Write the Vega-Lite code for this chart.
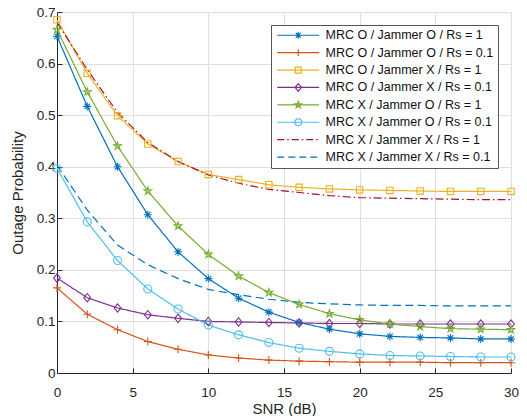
{
  "$schema": "https://vega.github.io/schema/vega-lite/v6.json",
  "width": 454,
  "height": 361,
  "autosize": "none",
  "padding": {"left": 57, "top": 12, "right": 16, "bottom": 43},
  "background": "white",
  "config": {
    "view": {"stroke": null},
    "font": "Liberation Sans",
    "axis": {
      "grid": true,
      "gridColor": "#dfdfdf",
      "gridWidth": 1,
      "domainColor": "#262626",
      "domainWidth": 1,
      "tickColor": "#262626",
      "tickSize": -5,
      "labelFont": "Liberation Sans",
      "labelFontSize": 13.5,
      "labelColor": "#262626",
      "labelFlush": false,
      "labelOverlap": false,
      "titleFont": "Liberation Sans",
      "titleFontSize": 15,
      "titleFontWeight": "normal",
      "titleColor": "#262626"
    },
    "legend": {
      "labelFont": "Liberation Sans",
      "labelFontSize": 12.5
    }
  },
  "data": {
    "values": [
      {"snr": 0, "p": 0.653, "series": "MRC O / Jammer O / Rs = 1"},
      {"snr": 2, "p": 0.517, "series": "MRC O / Jammer O / Rs = 1"},
      {"snr": 4, "p": 0.400, "series": "MRC O / Jammer O / Rs = 1"},
      {"snr": 6, "p": 0.307, "series": "MRC O / Jammer O / Rs = 1"},
      {"snr": 8, "p": 0.235, "series": "MRC O / Jammer O / Rs = 1"},
      {"snr": 10, "p": 0.183, "series": "MRC O / Jammer O / Rs = 1"},
      {"snr": 12, "p": 0.145, "series": "MRC O / Jammer O / Rs = 1"},
      {"snr": 14, "p": 0.118, "series": "MRC O / Jammer O / Rs = 1"},
      {"snr": 16, "p": 0.098, "series": "MRC O / Jammer O / Rs = 1"},
      {"snr": 18, "p": 0.085, "series": "MRC O / Jammer O / Rs = 1"},
      {"snr": 20, "p": 0.076, "series": "MRC O / Jammer O / Rs = 1"},
      {"snr": 22, "p": 0.071, "series": "MRC O / Jammer O / Rs = 1"},
      {"snr": 24, "p": 0.069, "series": "MRC O / Jammer O / Rs = 1"},
      {"snr": 26, "p": 0.068, "series": "MRC O / Jammer O / Rs = 1"},
      {"snr": 28, "p": 0.066, "series": "MRC O / Jammer O / Rs = 1"},
      {"snr": 30, "p": 0.066, "series": "MRC O / Jammer O / Rs = 1"},
      {"snr": 0, "p": 0.165, "series": "MRC O / Jammer O / Rs = 0.1"},
      {"snr": 2, "p": 0.114, "series": "MRC O / Jammer O / Rs = 0.1"},
      {"snr": 4, "p": 0.084, "series": "MRC O / Jammer O / Rs = 0.1"},
      {"snr": 6, "p": 0.061, "series": "MRC O / Jammer O / Rs = 0.1"},
      {"snr": 8, "p": 0.046, "series": "MRC O / Jammer O / Rs = 0.1"},
      {"snr": 10, "p": 0.035, "series": "MRC O / Jammer O / Rs = 0.1"},
      {"snr": 12, "p": 0.029, "series": "MRC O / Jammer O / Rs = 0.1"},
      {"snr": 14, "p": 0.025, "series": "MRC O / Jammer O / Rs = 0.1"},
      {"snr": 16, "p": 0.023, "series": "MRC O / Jammer O / Rs = 0.1"},
      {"snr": 18, "p": 0.022, "series": "MRC O / Jammer O / Rs = 0.1"},
      {"snr": 20, "p": 0.021, "series": "MRC O / Jammer O / Rs = 0.1"},
      {"snr": 22, "p": 0.021, "series": "MRC O / Jammer O / Rs = 0.1"},
      {"snr": 24, "p": 0.021, "series": "MRC O / Jammer O / Rs = 0.1"},
      {"snr": 26, "p": 0.020, "series": "MRC O / Jammer O / Rs = 0.1"},
      {"snr": 28, "p": 0.020, "series": "MRC O / Jammer O / Rs = 0.1"},
      {"snr": 30, "p": 0.020, "series": "MRC O / Jammer O / Rs = 0.1"},
      {"snr": 0, "p": 0.685, "series": "MRC O / Jammer X / Rs = 1"},
      {"snr": 2, "p": 0.581, "series": "MRC O / Jammer X / Rs = 1"},
      {"snr": 4, "p": 0.499, "series": "MRC O / Jammer X / Rs = 1"},
      {"snr": 6, "p": 0.444, "series": "MRC O / Jammer X / Rs = 1"},
      {"snr": 8, "p": 0.410, "series": "MRC O / Jammer X / Rs = 1"},
      {"snr": 10, "p": 0.385, "series": "MRC O / Jammer X / Rs = 1"},
      {"snr": 12, "p": 0.375, "series": "MRC O / Jammer X / Rs = 1"},
      {"snr": 14, "p": 0.365, "series": "MRC O / Jammer X / Rs = 1"},
      {"snr": 16, "p": 0.360, "series": "MRC O / Jammer X / Rs = 1"},
      {"snr": 18, "p": 0.357, "series": "MRC O / Jammer X / Rs = 1"},
      {"snr": 20, "p": 0.355, "series": "MRC O / Jammer X / Rs = 1"},
      {"snr": 22, "p": 0.354, "series": "MRC O / Jammer X / Rs = 1"},
      {"snr": 24, "p": 0.353, "series": "MRC O / Jammer X / Rs = 1"},
      {"snr": 26, "p": 0.352, "series": "MRC O / Jammer X / Rs = 1"},
      {"snr": 28, "p": 0.352, "series": "MRC O / Jammer X / Rs = 1"},
      {"snr": 30, "p": 0.352, "series": "MRC O / Jammer X / Rs = 1"},
      {"snr": 0, "p": 0.184, "series": "MRC O / Jammer X / Rs = 0.1"},
      {"snr": 2, "p": 0.146, "series": "MRC O / Jammer X / Rs = 0.1"},
      {"snr": 4, "p": 0.126, "series": "MRC O / Jammer X / Rs = 0.1"},
      {"snr": 6, "p": 0.113, "series": "MRC O / Jammer X / Rs = 0.1"},
      {"snr": 8, "p": 0.106, "series": "MRC O / Jammer X / Rs = 0.1"},
      {"snr": 10, "p": 0.100, "series": "MRC O / Jammer X / Rs = 0.1"},
      {"snr": 12, "p": 0.099, "series": "MRC O / Jammer X / Rs = 0.1"},
      {"snr": 14, "p": 0.098, "series": "MRC O / Jammer X / Rs = 0.1"},
      {"snr": 16, "p": 0.097, "series": "MRC O / Jammer X / Rs = 0.1"},
      {"snr": 18, "p": 0.096, "series": "MRC O / Jammer X / Rs = 0.1"},
      {"snr": 20, "p": 0.096, "series": "MRC O / Jammer X / Rs = 0.1"},
      {"snr": 22, "p": 0.095, "series": "MRC O / Jammer X / Rs = 0.1"},
      {"snr": 24, "p": 0.095, "series": "MRC O / Jammer X / Rs = 0.1"},
      {"snr": 26, "p": 0.095, "series": "MRC O / Jammer X / Rs = 0.1"},
      {"snr": 28, "p": 0.095, "series": "MRC O / Jammer X / Rs = 0.1"},
      {"snr": 30, "p": 0.095, "series": "MRC O / Jammer X / Rs = 0.1"},
      {"snr": 0, "p": 0.666, "series": "MRC X / Jammer O / Rs = 1"},
      {"snr": 2, "p": 0.545, "series": "MRC X / Jammer O / Rs = 1"},
      {"snr": 4, "p": 0.440, "series": "MRC X / Jammer O / Rs = 1"},
      {"snr": 6, "p": 0.353, "series": "MRC X / Jammer O / Rs = 1"},
      {"snr": 8, "p": 0.285, "series": "MRC X / Jammer O / Rs = 1"},
      {"snr": 10, "p": 0.230, "series": "MRC X / Jammer O / Rs = 1"},
      {"snr": 12, "p": 0.188, "series": "MRC X / Jammer O / Rs = 1"},
      {"snr": 14, "p": 0.156, "series": "MRC X / Jammer O / Rs = 1"},
      {"snr": 16, "p": 0.133, "series": "MRC X / Jammer O / Rs = 1"},
      {"snr": 18, "p": 0.115, "series": "MRC X / Jammer O / Rs = 1"},
      {"snr": 20, "p": 0.103, "series": "MRC X / Jammer O / Rs = 1"},
      {"snr": 22, "p": 0.095, "series": "MRC X / Jammer O / Rs = 1"},
      {"snr": 24, "p": 0.090, "series": "MRC X / Jammer O / Rs = 1"},
      {"snr": 26, "p": 0.086, "series": "MRC X / Jammer O / Rs = 1"},
      {"snr": 28, "p": 0.085, "series": "MRC X / Jammer O / Rs = 1"},
      {"snr": 30, "p": 0.084, "series": "MRC X / Jammer O / Rs = 1"},
      {"snr": 0, "p": 0.397, "series": "MRC X / Jammer O / Rs = 0.1"},
      {"snr": 2, "p": 0.293, "series": "MRC X / Jammer O / Rs = 0.1"},
      {"snr": 4, "p": 0.218, "series": "MRC X / Jammer O / Rs = 0.1"},
      {"snr": 6, "p": 0.163, "series": "MRC X / Jammer O / Rs = 0.1"},
      {"snr": 8, "p": 0.124, "series": "MRC X / Jammer O / Rs = 0.1"},
      {"snr": 10, "p": 0.093, "series": "MRC X / Jammer O / Rs = 0.1"},
      {"snr": 12, "p": 0.074, "series": "MRC X / Jammer O / Rs = 0.1"},
      {"snr": 14, "p": 0.059, "series": "MRC X / Jammer O / Rs = 0.1"},
      {"snr": 16, "p": 0.048, "series": "MRC X / Jammer O / Rs = 0.1"},
      {"snr": 18, "p": 0.042, "series": "MRC X / Jammer O / Rs = 0.1"},
      {"snr": 20, "p": 0.037, "series": "MRC X / Jammer O / Rs = 0.1"},
      {"snr": 22, "p": 0.034, "series": "MRC X / Jammer O / Rs = 0.1"},
      {"snr": 24, "p": 0.033, "series": "MRC X / Jammer O / Rs = 0.1"},
      {"snr": 26, "p": 0.032, "series": "MRC X / Jammer O / Rs = 0.1"},
      {"snr": 28, "p": 0.031, "series": "MRC X / Jammer O / Rs = 0.1"},
      {"snr": 30, "p": 0.031, "series": "MRC X / Jammer O / Rs = 0.1"},
      {"snr": 0, "p": 0.680, "series": "MRC X / Jammer X / Rs = 1"},
      {"snr": 2, "p": 0.588, "series": "MRC X / Jammer X / Rs = 1"},
      {"snr": 4, "p": 0.505, "series": "MRC X / Jammer X / Rs = 1"},
      {"snr": 6, "p": 0.447, "series": "MRC X / Jammer X / Rs = 1"},
      {"snr": 8, "p": 0.410, "series": "MRC X / Jammer X / Rs = 1"},
      {"snr": 10, "p": 0.384, "series": "MRC X / Jammer X / Rs = 1"},
      {"snr": 12, "p": 0.368, "series": "MRC X / Jammer X / Rs = 1"},
      {"snr": 14, "p": 0.356, "series": "MRC X / Jammer X / Rs = 1"},
      {"snr": 16, "p": 0.350, "series": "MRC X / Jammer X / Rs = 1"},
      {"snr": 18, "p": 0.344, "series": "MRC X / Jammer X / Rs = 1"},
      {"snr": 20, "p": 0.340, "series": "MRC X / Jammer X / Rs = 1"},
      {"snr": 22, "p": 0.339, "series": "MRC X / Jammer X / Rs = 1"},
      {"snr": 24, "p": 0.338, "series": "MRC X / Jammer X / Rs = 1"},
      {"snr": 26, "p": 0.337, "series": "MRC X / Jammer X / Rs = 1"},
      {"snr": 28, "p": 0.336, "series": "MRC X / Jammer X / Rs = 1"},
      {"snr": 30, "p": 0.336, "series": "MRC X / Jammer X / Rs = 1"},
      {"snr": 0, "p": 0.403, "series": "MRC X / Jammer X / Rs = 0.1"},
      {"snr": 2, "p": 0.316, "series": "MRC X / Jammer X / Rs = 0.1"},
      {"snr": 4, "p": 0.248, "series": "MRC X / Jammer X / Rs = 0.1"},
      {"snr": 6, "p": 0.210, "series": "MRC X / Jammer X / Rs = 0.1"},
      {"snr": 8, "p": 0.183, "series": "MRC X / Jammer X / Rs = 0.1"},
      {"snr": 10, "p": 0.162, "series": "MRC X / Jammer X / Rs = 0.1"},
      {"snr": 12, "p": 0.152, "series": "MRC X / Jammer X / Rs = 0.1"},
      {"snr": 14, "p": 0.143, "series": "MRC X / Jammer X / Rs = 0.1"},
      {"snr": 16, "p": 0.137, "series": "MRC X / Jammer X / Rs = 0.1"},
      {"snr": 18, "p": 0.134, "series": "MRC X / Jammer X / Rs = 0.1"},
      {"snr": 20, "p": 0.132, "series": "MRC X / Jammer X / Rs = 0.1"},
      {"snr": 22, "p": 0.131, "series": "MRC X / Jammer X / Rs = 0.1"},
      {"snr": 24, "p": 0.131, "series": "MRC X / Jammer X / Rs = 0.1"},
      {"snr": 26, "p": 0.130, "series": "MRC X / Jammer X / Rs = 0.1"},
      {"snr": 28, "p": 0.130, "series": "MRC X / Jammer X / Rs = 0.1"},
      {"snr": 30, "p": 0.130, "series": "MRC X / Jammer X / Rs = 0.1"}
    ]
  },
  "encoding": {
    "x": {
      "field": "snr", "type": "quantitative",
      "scale": {"domain": [0, 30], "nice": false, "zero": false},
      "axis": {"title": "SNR (dB)", "values": [0, 5, 10, 15, 20, 25, 30], "labelPadding": 17, "titlePadding": 3}
    },
    "y": {
      "field": "p", "type": "quantitative",
      "scale": {"domain": [0, 0.7], "nice": false},
      "axis": {"title": "Outage Probability", "values": [0, 0.1, 0.2, 0.3, 0.4, 0.5, 0.6, 0.7], "format": ".1~f", "labelPadding": 7, "titlePadding": 11}
    }
  },
  "layer": [
    {
      "mark": {"type": "line", "strokeWidth": 1.2},
      "encoding": {
        "color": {
          "field": "series", "type": "nominal", "legend": null,
          "scale": {
            "domain": ["MRC O / Jammer O / Rs = 1", "MRC O / Jammer O / Rs = 0.1", "MRC O / Jammer X / Rs = 1", "MRC O / Jammer X / Rs = 0.1", "MRC X / Jammer O / Rs = 1", "MRC X / Jammer O / Rs = 0.1", "MRC X / Jammer X / Rs = 1", "MRC X / Jammer X / Rs = 0.1"],
            "range": ["#0072BD", "#D95319", "#EDB120", "#7E2F8E", "#77AC30", "#4DBEEE", "#A2142F", "#0072BD"]
          }
        },
        "strokeDash": {
          "field": "series", "type": "nominal", "legend": null,
          "scale": {
            "domain": ["MRC O / Jammer O / Rs = 1", "MRC O / Jammer O / Rs = 0.1", "MRC O / Jammer X / Rs = 1", "MRC O / Jammer X / Rs = 0.1", "MRC X / Jammer O / Rs = 1", "MRC X / Jammer O / Rs = 0.1", "MRC X / Jammer X / Rs = 1", "MRC X / Jammer X / Rs = 0.1"],
            "range": [[1, 0], [1, 0], [1, 0], [1, 0], [1, 0], [1, 0], [8, 3, 1.5, 3], [8, 4.5]]
          }
        }
      }
    },
    {
      "transform": [{"filter": {"not": {"field": "series", "oneOf": ["MRC X / Jammer X / Rs = 1", "MRC X / Jammer X / Rs = 0.1"]}}}],
      "mark": {"type": "point", "filled": false, "size": 64, "strokeWidth": 1.1, "opacity": 1},
      "encoding": {
        "color": {
          "field": "series", "type": "nominal", "legend": null,
          "scale": {
            "domain": ["MRC O / Jammer O / Rs = 1", "MRC O / Jammer O / Rs = 0.1", "MRC O / Jammer X / Rs = 1", "MRC O / Jammer X / Rs = 0.1", "MRC X / Jammer O / Rs = 1", "MRC X / Jammer O / Rs = 0.1", "MRC X / Jammer X / Rs = 1", "MRC X / Jammer X / Rs = 0.1"],
            "range": ["#0072BD", "#D95319", "#EDB120", "#7E2F8E", "#77AC30", "#4DBEEE", "#A2142F", "#0072BD"]
          }
        },
        "shape": {
          "field": "series", "type": "nominal", "legend": null,
          "scale": {
            "domain": ["MRC O / Jammer O / Rs = 1", "MRC O / Jammer O / Rs = 0.1", "MRC O / Jammer X / Rs = 1", "MRC O / Jammer X / Rs = 0.1", "MRC X / Jammer O / Rs = 1", "MRC X / Jammer O / Rs = 0.1"],
            "range": [
              "M-1,0H1M0,-1V1M-0.7,-0.7L0.7,0.7M-0.7,0.7L0.7,-0.7",
              "M-1,0H1M0,-1V1",
              "M-0.8,-0.8H0.8V0.8H-0.8Z",
              "M0,-1.05L0.85,0L0,1.05L-0.85,0Z",
              "M0,-1L0.2245,-0.309L0.951,-0.309L0.363,0.118L0.588,0.809L0,0.382L-0.588,0.809L-0.363,0.118L-0.951,-0.309L-0.2245,-0.309Z",
              "circle"
            ]
          }
        }
      }
    },
    {
      "transform": [{"filter": {"field": "snr", "lt": -100}}],
      "mark": {"type": "point", "filled": false, "size": 49, "strokeWidth": 1.2, "opacity": 1},
      "encoding": {
        "color": {
          "field": "series", "type": "nominal",
          "scale": {
            "domain": ["MRC O / Jammer O / Rs = 1", "MRC O / Jammer O / Rs = 0.1", "MRC O / Jammer X / Rs = 1", "MRC O / Jammer X / Rs = 0.1", "MRC X / Jammer O / Rs = 1", "MRC X / Jammer O / Rs = 0.1", "MRC X / Jammer X / Rs = 1", "MRC X / Jammer X / Rs = 0.1"],
            "range": ["#0072BD", "#D95319", "#EDB120", "#7E2F8E", "#77AC30", "#4DBEEE", "#A2142F", "#0072BD"]
          },
          "legend": {
            "title": null,
            "orient": "top-right",
            "offset": 13,
            "padding": 4,
            "rowPadding": 4.4,
            "fillColor": "white",
            "strokeColor": "#555555",
            "labelColor": "#111111",
            "labelLimit": 400,
            "symbolSize": 49,
            "symbolStrokeWidth": 1.2,
            "symbolOffset": 17,
            "labelOffset": 21
          }
        },
        "shape": {
          "field": "series", "type": "nominal",
          "scale": {
            "domain": ["MRC O / Jammer O / Rs = 1", "MRC O / Jammer O / Rs = 0.1", "MRC O / Jammer X / Rs = 1", "MRC O / Jammer X / Rs = 0.1", "MRC X / Jammer O / Rs = 1", "MRC X / Jammer O / Rs = 0.1", "MRC X / Jammer X / Rs = 1", "MRC X / Jammer X / Rs = 0.1"],
            "range": [
              "M-6,0H6M0,-1V1M-0.7,-0.7L0.7,0.7M-0.7,0.7L0.7,-0.7",
              "M-6,0H6M0,-1V1",
              "M-6,0H6M-0.85,-0.85H0.85V0.85H-0.85Z",
              "M-6,0H6M0,-1.1L0.9,0L0,1.1L-0.9,0Z",
              "M-6,0H6M0,-1L0.2245,-0.309L0.951,-0.309L0.363,0.118L0.588,0.809L0,0.382L-0.588,0.809L-0.363,0.118L-0.951,-0.309L-0.2245,-0.309Z",
              "M-6,0H6M1,0A1,1,0,1,1,-1,0A1,1,0,1,1,1,0Z",
              "M-6,0H6",
              "M-6,0H6"
            ]
          }
        },
        "strokeDash": {
          "field": "series", "type": "nominal",
          "scale": {
            "domain": ["MRC O / Jammer O / Rs = 1", "MRC O / Jammer O / Rs = 0.1", "MRC O / Jammer X / Rs = 1", "MRC O / Jammer X / Rs = 0.1", "MRC X / Jammer O / Rs = 1", "MRC X / Jammer O / Rs = 0.1", "MRC X / Jammer X / Rs = 1", "MRC X / Jammer X / Rs = 0.1"],
            "range": [[1, 0], [1, 0], [1, 0], [1, 0], [1, 0], [1, 0], [7, 3, 1.5, 3], [7, 4]]
          }
        }
      }
    }
  ],
  "resolve": {"scale": {"color": "independent", "shape": "independent", "strokeDash": "independent"}}
}
